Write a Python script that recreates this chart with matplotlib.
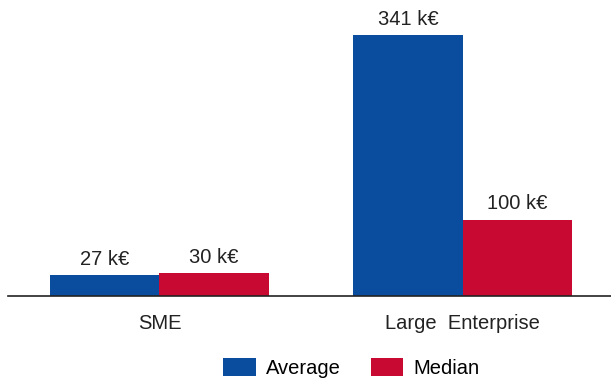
import matplotlib
matplotlib.use('Agg')
import matplotlib.pyplot as plt
import numpy as np

plt.rcParams['font.family'] = ['Liberation Sans', 'DejaVu Sans']

categorias = ['SME', 'Large  Enterprise']
series = ['Average', 'Median']
promedio = [27, 341]
mediana = [30, 100]
colores = ['#0A4C9E', '#C80A32']

fig = plt.figure(figsize=(6.11, 3.85), dpi=100)
ax = fig.add_axes([0.013, 0.231, 0.987, 0.769])

x = np.arange(len(categorias))
ancho = 0.36
for k, (vals, nombre) in enumerate(zip([promedio, mediana], series)):
    pos = x + (k - 0.5) * ancho
    ax.bar(pos, vals, width=ancho, color=colores[k], label=nombre)
    for p, v in zip(pos, vals):
        ax.text(p, v + 8, f"{v} k€", ha='center', va='bottom', fontsize=14.5, color='#222222')

ax.set_xlim(-0.5, 1.49)
ax.set_ylim(0, 387)
ax.set_xticks(x)
ax.set_xticklabels(categorias, fontsize=14.5, color='#222222')
ax.tick_params(axis='x', length=0, pad=13)
ax.set_yticks([])
for s in ['top', 'right', 'left']:
    ax.spines[s].set_visible(False)
ax.spines['bottom'].set_color('#222222')
ax.spines['bottom'].set_linewidth(1.2)

fig.legend(loc='center', bbox_to_anchor=(0.575, 0.045), ncol=2, frameon=False,
           fontsize=14.5, handlelength=1.6, handleheight=1.0, columnspacing=1.5,
           handletextpad=0.5)

fig.savefig('out.png', dpi=100)
